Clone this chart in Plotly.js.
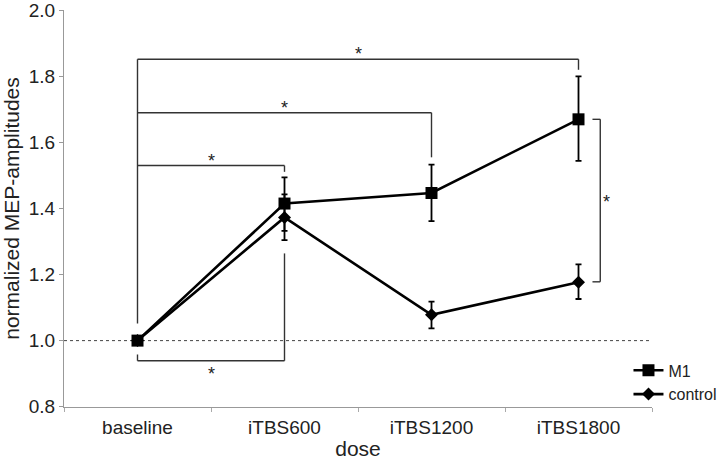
<!DOCTYPE html>
<html>
<head>
<meta charset="utf-8">
<script src="https://cdn.plot.ly/plotly-3.0.1.min.js"></script>
<style>html,body{margin:0;padding:0;background:#fff}#chart{width:720px;height:460px}</style>
</head>
<body>
<div id="chart"></div>
<script>
// ---- data ----
const categories = ["baseline", "iTBS600", "iTBS1200", "iTBS1800"];
const m1Values = [1.0, 1.415, 1.447, 1.670];
const m1ErrPlus = [0, 0.079, 0.086, 0.130];
const m1ErrMinus = [0, 0.083, 0.085, 0.126];
const controlValues = [1.0, 1.373, 1.078, 1.177];
const controlErrPlus = [0, 0.070, 0.040, 0.054];
const controlErrMinus = [0, 0.069, 0.041, 0.051];
const yTicks = [0.8, 1.0, 1.2, 1.4, 1.6, 1.8, 2.0];
const yTickLabels = ["0.8", "1.0", "1.2", "1.4", "1.6", "1.8", "2.0"];
// significance brackets from baseline (upper): target category, level, end of right drop
const sigTargets = ["iTBS1800", "iTBS1200", "iTBS600"];
const sigLevels = [1.852, 1.690, 1.530];
const sigDropEnds = [1.820, 1.555, 1.511];
const sigBaselineDropEnd = 1.052;
// lower bracket (control baseline vs iTBS600)
const lowTarget = "iTBS600";
const lowLevel = 0.939;
const lowLeftEnd = 0.958;
const lowRightEnd = 1.264;
// right bracket (M1 vs control at iTBS1800)
const rightCat = "iTBS1800";
const rightTop = 1.670;
const rightBottom = 1.178;
const refLevel = 1.0;

// ---- styling ----
const lineCol = "#333333";
const starFont = {size: 18, color: "#222", family: "Liberation Sans, Arial, sans-serif"};
const idx = c => categories.indexOf(c);
const shapes = [];
const annotations = [];
const ln = {color: lineCol, width: 1.4};

// reference dotted line
shapes.push({type: "line", xref: "paper", x0: 0, x1: 1, yref: "y", y0: refLevel, y1: refLevel,
  line: {color: "#444", width: 1, dash: "dot"}, layer: "below"});

// baseline vertical for upper brackets
shapes.push({type: "line", xref: "x", yref: "y", x0: 0, x1: 0, y0: sigBaselineDropEnd, y1: sigLevels[0], line: ln});
sigTargets.forEach((t, i) => {
  const xi = idx(t);
  shapes.push({type: "line", xref: "x", yref: "y", x0: 0, x1: xi, y0: sigLevels[i], y1: sigLevels[i], line: ln});
  shapes.push({type: "line", xref: "x", yref: "y", x0: xi, x1: xi, y0: sigLevels[i], y1: sigDropEnds[i], line: ln});
  annotations.push({x: xi / 2, y: sigLevels[i], xref: "x", yref: "y", text: "*", showarrow: false,
    yanchor: "bottom", yshift: -7, font: starFont});
});

// lower bracket
const lx = idx(lowTarget);
shapes.push({type: "line", xref: "x", yref: "y", x0: 0, x1: 0, y0: lowLeftEnd, y1: lowLevel, line: ln});
shapes.push({type: "line", xref: "x", yref: "y", x0: 0, x1: lx, y0: lowLevel, y1: lowLevel, line: ln});
shapes.push({type: "line", xref: "x", yref: "y", x0: lx, x1: lx, y0: lowLevel, y1: lowRightEnd, line: ln});
annotations.push({x: lx / 2, y: lowLevel, xref: "x", yref: "y", text: "*", showarrow: false,
  yanchor: "top", yshift: -1, font: starFont});

// right bracket
const rx = idx(rightCat) + 0.148;
const rxi = idx(rightCat) + 0.095;
shapes.push({type: "line", xref: "x", yref: "y", x0: rx, x1: rx, y0: rightTop, y1: rightBottom, line: ln});
shapes.push({type: "line", xref: "x", yref: "y", x0: rxi, x1: rx, y0: rightTop, y1: rightTop, line: ln});
shapes.push({type: "line", xref: "x", yref: "y", x0: rxi, x1: rx, y0: rightBottom, y1: rightBottom, line: ln});
annotations.push({x: rx, y: (rightTop + rightBottom) / 2, xref: "x", yref: "y", text: "*", showarrow: false,
  xanchor: "left", xshift: 1, yshift: -1, font: starFont});

const traces = [
  {x: categories, y: m1Values, name: "M1", type: "scatter", mode: "lines+markers",
   line: {color: "#000", width: 2.6}, marker: {symbol: "square", size: 12, color: "#000"},
   error_y: {type: "data", symmetric: false, array: m1ErrPlus, arrayminus: m1ErrMinus,
     color: "#000", thickness: 1.8, width: 3}},
  {x: categories, y: controlValues, name: "control", type: "scatter", mode: "lines+markers",
   line: {color: "#000", width: 2.6}, marker: {symbol: "diamond", size: 10, color: "#000"},
   error_y: {type: "data", symmetric: false, array: controlErrPlus, arrayminus: controlErrMinus,
     color: "#000", thickness: 1.8, width: 3}}
];

const layout = {
  width: 720, height: 460,
  margin: {l: 64, r: 68, t: 10, b: 53, autoexpand: false},
  paper_bgcolor: "#fff", plot_bgcolor: "#fff",
  font: {family: "Liberation Sans, Arial, sans-serif", color: "#222", size: 19},
  showlegend: true,
  legend: {x: 0.96, xanchor: "left", y: 0.135, yanchor: "top", bgcolor: "rgba(0,0,0,0)",
    font: {size: 16, color: "#222"}, tracegroupgap: 0, itemwidth: 30},
  xaxis: {type: "category", range: [-0.5, 3.5], showgrid: false, zeroline: false,
    showline: true, linecolor: "#999", linewidth: 1, ticks: "outside", tickson: "boundaries",
    ticklen: 4, tickcolor: "#aaa", tickfont: {size: 19, color: "#222"}, ticklabelstandoff: 3,
    title: {text: "dose", font: {size: 21, color: "#222"}, standoff: 4}},
  yaxis: {range: [0.799, 2.001], tickvals: yTicks, ticktext: yTickLabels, showgrid: false, zeroline: false,
    showline: true, linecolor: "#999", linewidth: 1, ticks: "outside", ticklen: 4, tickcolor: "#999",
    tickfont: {size: 19, color: "#222"}, ticklabeloverflow: "allow",
    title: {text: "normalized MEP-amplitudes", font: {size: 21, color: "#222"}, standoff: 6}},
  shapes: shapes,
  annotations: annotations
};

Plotly.newPlot("chart", traces, layout, {displayModeBar: false, staticPlot: true});
</script>
</body>
</html>
